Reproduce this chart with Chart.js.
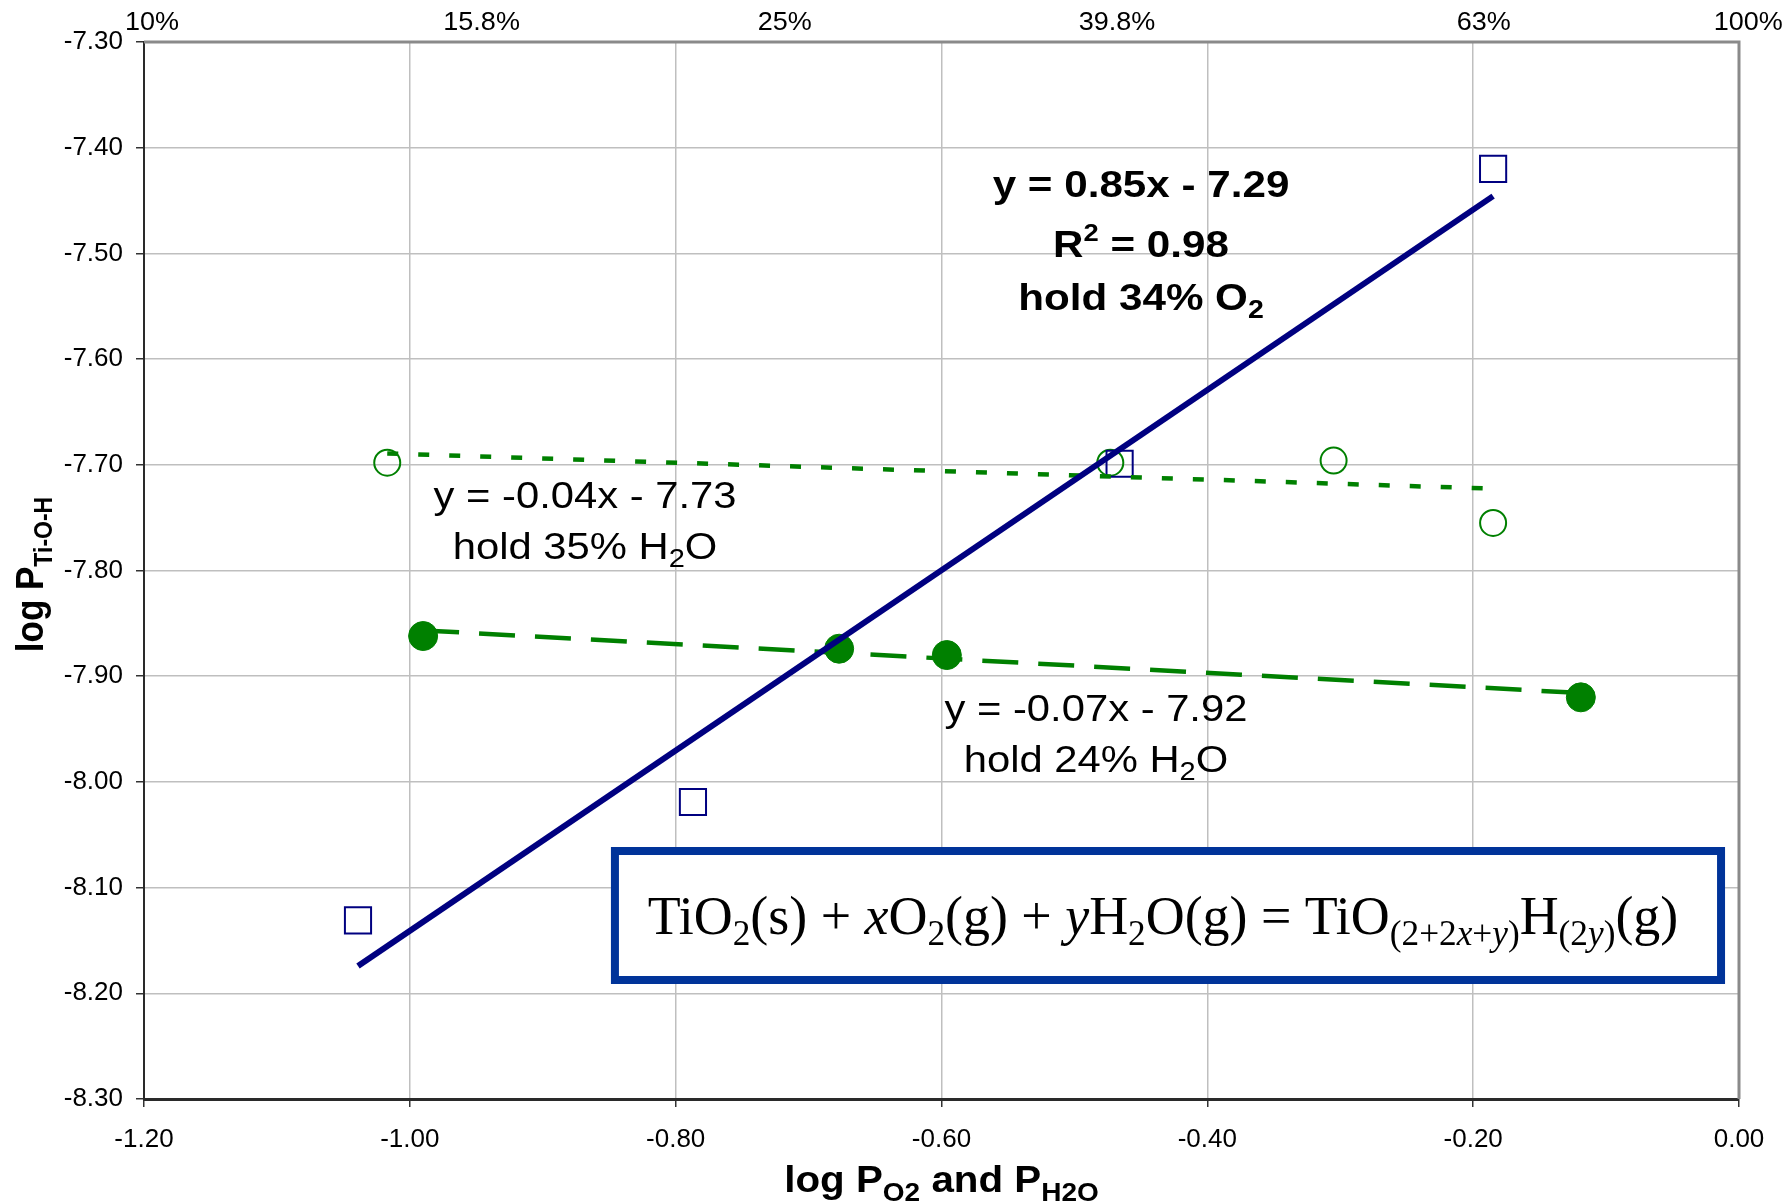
<!DOCTYPE html>
<html>
<head>
<meta charset="utf-8">
<title>log P(Ti-O-H) vs log P(O2) and P(H2O)</title>
<script src="https://cdn.jsdelivr.net/npm/chart.js@4.4.1/dist/chart.umd.min.js"></script>
<style>
  html, body { margin: 0; padding: 0; background: #ffffff; }
  #wrap { width: 1787px; height: 1203px; }
</style>
</head>
<body>
<div id="wrap"><canvas id="chart" width="1787" height="1203"></canvas></div>
<script>
// Measured points: log P(Ti-O-H) against log P(O2) or log P(H2O)
const holdO2X = [-1.039, -0.787, -0.466, -0.185];
const holdO2Y = [-8.131, -8.019, -7.699, -7.420];
const hold35H2OX = [-1.017, -0.473, -0.305, -0.185];
const hold35H2OY = [-7.698, -7.698, -7.696, -7.755];
const hold24H2OX = [-0.990, -0.677, -0.596, -0.119];
const hold24H2OY = [-7.862, -7.874, -7.880, -7.920];

// Linear fits: [slope, intercept]
const holdO2Fit = [0.853, -7.288];
const holdO2R2 = 0.98;
const hold35H2OFit = [-0.04, -7.73];
const hold24H2OFit = [-0.068, -7.924];

// Axis ranges and tick steps
const xRange = [-1.2, 0];
const xStep = 0.2;
const yRange = [-8.3, -7.3];
const yStep = 0.1;

// Gas fraction labels along the top edge and the log value each one sits at
const fractionLabels = ['10%', '15.8%', '25%', '39.8%', '63%', '100%'];
const fractionAt = [-1.194, -0.946, -0.718, -0.468, -0.192, 0.007];

const NAVY = '#000080';
const GREEN = '#008000';
const BOX_BLUE = '#003399';
const SANS = '"Liberation Sans", Arial, Helvetica, sans-serif';
const SERIF = '"Liberation Serif", "Times New Roman", Times, serif';

const toPoints = (xs, ys) => xs.map((v, i) => ({ x: v, y: ys[i] }));
const fitLine = (xs, fit) => {
  const lo = Math.min(...xs), hi = Math.max(...xs);
  return [{ x: lo, y: fit[0] * lo + fit[1] }, { x: hi, y: fit[0] * hi + fit[1] }];
};
const fmt2 = v => (Math.abs(v) < 1e-9 ? 0 : v).toFixed(2);
const eqText = fit => 'y = ' + fmt2(fit[0]) + 'x ' + (fit[1] < 0 ? '- ' : '+ ') + Math.abs(fit[1]).toFixed(2);

// Rich text: _{..} subscript, ^{..} superscript, |..| italic
function parseRich(s) {
  const runs = [];
  let mode = 'n', italic = false, buf = '';
  const push = () => { if (buf) runs.push({ t: buf, mode, italic }); buf = ''; };
  for (let i = 0; i < s.length; i++) {
    const c = s[i];
    if ((c === '_' || c === '^') && s[i + 1] === '{') { push(); mode = c === '_' ? 'sub' : 'sup'; i++; continue; }
    if (c === '}' && mode !== 'n') { push(); mode = 'n'; continue; }
    if (c === '|') { push(); italic = !italic; continue; }
    buf += c;
  }
  push();
  return runs;
}

function drawRich(ctx, str, x, y, st) {
  const runs = parseRich(str);
  const sizeOf = r => r.mode === 'sub' ? st.subSize : r.mode === 'sup' ? st.supSize : st.size;
  const fontOf = r => (r.italic ? 'italic ' : '') + (st.bold ? 'bold ' : '') + sizeOf(r) + 'px ' + st.family;
  let total = 0;
  runs.forEach(r => { ctx.font = fontOf(r); r.w = ctx.measureText(r.t).width; total += r.w; });
  ctx.save();
  ctx.translate(x, y);
  ctx.scale(st.sx || 1, 1);
  if (st.rotate) ctx.rotate(st.rotate);
  ctx.fillStyle = st.color || '#000';
  ctx.textBaseline = 'alphabetic';
  ctx.textAlign = 'left';
  let cx = -total / 2;
  runs.forEach(r => {
    ctx.font = fontOf(r);
    const dy = r.mode === 'sub' ? st.subDy : r.mode === 'sup' ? st.supDy : 0;
    ctx.fillText(r.t, cx, dy);
    cx += r.w;
  });
  ctx.restore();
}

const boldNote = { family: SANS, bold: true, size: 37, subSize: 25, subDy: 8, supSize: 24, supDy: -16, sx: 1.14 };
const plainNote = { family: SANS, bold: false, size: 36, subSize: 25, subDy: 8, supSize: 24, supDy: -16, sx: 1.16 };

// Fit labels, anchored in data units (centre x, first baseline y)
const notes = [
  { x: -0.4499, y: -7.4464, style: boldNote, steps: [0, 60.5, 113.3],
    lines: [eqText(holdO2Fit), 'R^{2} = ' + holdO2R2.toFixed(2), 'hold 34% O_{2}'] },
  { x: -0.8682, y: -7.7412, style: plainNote, steps: [0, 51],
    lines: [eqText(hold35H2OFit), 'hold 35% H_{2}O'] },
  { x: -0.4838, y: -7.9421, style: plainNote, steps: [0, 51],
    lines: [eqText(hold24H2OFit), 'hold 24% H_{2}O'] }
];

// Reaction box, corners in data units
const reactionBox = { x0: -0.8487, x1: -0.0105, y0: -8.0616, y1: -8.1912,
  text: 'TiO_{2}(s) + |x|O_{2}(g) + |y|H_{2}O(g) = TiO_{(2+2|x|+|y|)}H_{(2|y|)}(g)' };

const decorations = {
  id: 'decorations',
  afterDatasetsDraw(chart) {
    const { ctx, chartArea: a, scales } = chart;
    const xs = scales.x, ys = scales.y;

    // top and right edges of the plot frame
    ctx.save();
    ctx.strokeStyle = '#8a8a8a';
    ctx.lineWidth = 3;
    ctx.beginPath();
    ctx.moveTo(a.left, a.top);
    ctx.lineTo(a.right, a.top);
    ctx.lineTo(a.right, a.bottom);
    ctx.stroke();
    ctx.restore();

    // fit labels
    notes.forEach(n => {
      const px = xs.getPixelForValue(n.x);
      const py = ys.getPixelForValue(n.y);
      n.lines.forEach((t, i) => drawRich(ctx, t, px, py + n.steps[i], n.style));
    });

    // reaction equation box
    const bx0 = xs.getPixelForValue(reactionBox.x0), bx1 = xs.getPixelForValue(reactionBox.x1);
    const by0 = ys.getPixelForValue(reactionBox.y0), by1 = ys.getPixelForValue(reactionBox.y1);
    const bw = 8;
    ctx.save();
    ctx.fillStyle = '#ffffff';
    ctx.fillRect(bx0, by0, bx1 - bx0, by1 - by0);
    ctx.strokeStyle = BOX_BLUE;
    ctx.lineWidth = bw;
    ctx.strokeRect(bx0 + bw / 2, by0 + bw / 2, bx1 - bx0 - bw, by1 - by0 - bw);
    ctx.restore();
    drawRich(ctx, reactionBox.text, (bx0 + bx1) / 2 - 5, (by0 + by1) / 2 + 18,
      { family: SERIF, bold: false, size: 55, subSize: 36, subDy: 11, supSize: 36, supDy: -20, sx: 0.98 });

    // gas fraction labels above the plot
    fractionLabels.forEach((t, i) => {
      drawRich(ctx, t, xs.getPixelForValue(fractionAt[i]), a.top - 12,
        { family: SANS, bold: false, size: 25, subSize: 16, subDy: 5, supSize: 16, supDy: -8, sx: 1.08 });
    });

    // axis titles
    drawRich(ctx, 'log P_{O2} and P_{H2O}', (a.left + a.right) / 2, 1192,
      { family: SANS, bold: true, size: 36, subSize: 25, subDy: 9, supSize: 24, supDy: -12, sx: 1.12 });
    drawRich(ctx, 'log P_{Ti-O-H}', 43, (a.top + a.bottom) / 2 + 4,
      { family: SANS, bold: true, size: 35, subSize: 23, subDy: 8, supSize: 22, supDy: -12, sx: 1.12, rotate: -Math.PI / 2 });
  }
};

const tickFont = { family: SANS, size: 26 };

new Chart(document.getElementById('chart'), {
  type: 'scatter',
  data: {
    datasets: [
      { label: 'hold 34% O2 fit', data: fitLine(holdO2X, holdO2Fit), showLine: true, pointRadius: 0,
        borderColor: NAVY, borderWidth: 6, order: 0 },
      { label: 'hold 35% H2O fit', data: fitLine(hold35H2OX, hold35H2OFit), showLine: true, pointRadius: 0,
        borderColor: GREEN, borderWidth: 4.5, borderDash: [11, 20], borderCapStyle: 'butt', order: 0 },
      { label: 'hold 24% H2O fit', data: fitLine(hold24H2OX, hold24H2OFit), showLine: true, pointRadius: 0,
        borderColor: GREEN, borderWidth: 4.5, borderDash: [36, 20], borderCapStyle: 'butt', order: 0 },
      { label: 'hold 34% O2', data: toPoints(holdO2X, holdO2Y), pointStyle: 'rect', pointRadius: 18.5,
        pointBorderWidth: 2, pointBorderColor: NAVY, pointBackgroundColor: 'rgba(0,0,0,0)', order: 1 },
      { label: 'hold 35% H2O', data: toPoints(hold35H2OX, hold35H2OY), pointStyle: 'circle', pointRadius: 13,
        pointBorderWidth: 2, pointBorderColor: GREEN, pointBackgroundColor: 'rgba(0,0,0,0)', order: 1 },
      { label: 'hold 24% H2O', data: toPoints(hold24H2OX, hold24H2OY), pointStyle: 'circle', pointRadius: 14.5,
        pointBorderWidth: 1, pointBorderColor: GREEN, pointBackgroundColor: GREEN, order: 1 }
    ]
  },
  options: {
    responsive: false,
    animation: false,
    devicePixelRatio: 1,
    layout: { padding: { top: 42, right: 48, bottom: 0, left: 0 } },
    plugins: { legend: { display: false }, tooltip: { enabled: false } },
    scales: {
      x: {
        type: 'linear', position: 'bottom', min: xRange[0], max: xRange[1],
        afterFit: s => { s.height = 104; },
        ticks: { stepSize: xStep, callback: v => fmt2(v), font: tickFont, color: '#000', padding: 17, maxRotation: 0 },
        grid: { color: '#bfbfbf', lineWidth: 1.5, drawTicks: true, tickLength: 8, tickColor: '#333', tickWidth: 1.5 },
        border: { color: '#2a2a2a', width: 3 }
      },
      y: {
        type: 'linear', position: 'left', min: yRange[0], max: yRange[1],
        afterFit: s => { s.width = 144; },
        ticks: { stepSize: yStep, callback: v => fmt2(v), font: tickFont, color: '#000', padding: 13 },
        grid: { color: '#bfbfbf', lineWidth: 1.5, drawTicks: true, tickLength: 8, tickColor: '#333', tickWidth: 1.5 },
        border: { color: '#2a2a2a', width: 2 }
      }
    }
  },
  plugins: [decorations]
});
</script>
</body>
</html>
